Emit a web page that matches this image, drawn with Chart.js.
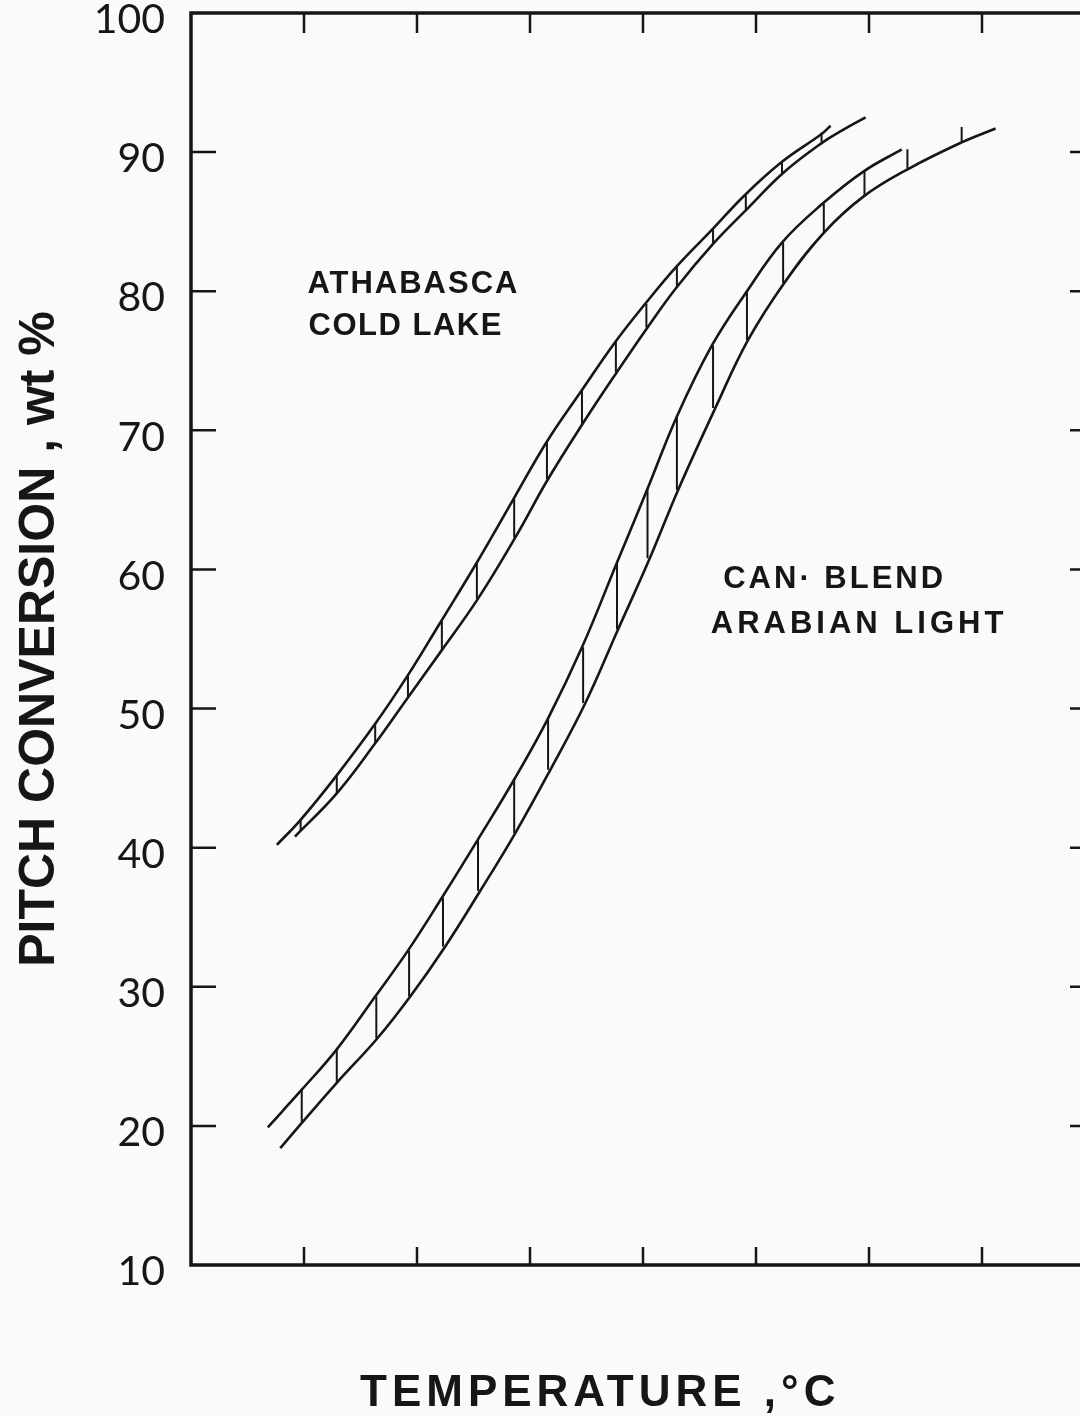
<!DOCTYPE html>
<html>
<head>
<meta charset="utf-8">
<title>Pitch conversion vs temperature</title>
<script src="https://cdn.jsdelivr.net/npm/chart.js@4"></script>
<style>
  html, body { margin: 0; padding: 0; background: #fafafa; overflow: hidden; }
  #chart { display: block; }
</style>
</head>
<body>
<canvas id="chart" width="1100" height="1416"></canvas>
<script>
// temperature is in tick steps (the axis carries no numbers), conversion in wt %
const athUpperTemp = [0.76, 0.97, 1.29, 1.63, 1.92, 2.20, 2.53, 2.85, 3.15, 3.46, 3.75, 4.02, 4.30, 4.62, 4.90, 5.23, 5.58, 5.66];
const athUpperConv = [40.2, 42.0, 45.2, 48.9, 52.4, 56.1, 60.5, 65.0, 69.2, 72.9, 76.3, 79.1, 81.8, 84.5, 86.9, 89.3, 91.3, 91.9];
const athLowerTemp = [0.92, 1.29, 1.63, 1.92, 2.22, 2.54, 2.87, 3.16, 3.46, 3.77, 4.04, 4.30, 4.62, 4.92, 5.24, 5.59, 5.77, 5.97];
const athLowerConv = [40.8, 43.9, 47.5, 50.8, 54.2, 57.9, 62.3, 66.5, 70.4, 74.2, 77.4, 80.3, 83.4, 85.9, 88.5, 90.7, 91.6, 92.5];
const athHatchTemp = [0.97, 1.29, 1.63, 1.92, 2.22, 2.53, 2.86, 3.15, 3.46, 3.76, 4.03, 4.30, 4.62, 4.91, 5.23, 5.58];
const athHatchTop = [42.0, 45.2, 48.9, 52.4, 56.3, 60.5, 65.1, 69.2, 72.9, 76.4, 79.1, 81.8, 84.5, 86.9, 89.3, 91.4];
const athHatchBottom = [41.2, 43.9, 47.5, 50.8, 54.2, 57.9, 62.3, 66.5, 70.4, 74.2, 77.4, 80.3, 83.4, 85.9, 88.5, 90.7];

const canUpperTemp = [0.68, 0.98, 1.29, 1.63, 1.92, 2.22, 2.54, 2.86, 3.16, 3.46, 3.77, 4.04, 4.30, 4.61, 4.92, 5.23, 5.59, 5.95, 6.29];
const canUpperConv = [19.9, 22.6, 25.5, 29.3, 32.6, 36.4, 40.6, 44.9, 49.3, 54.4, 60.5, 65.8, 71.0, 76.1, 80.0, 83.5, 86.3, 88.6, 90.2];
const canLowerTemp = [0.79, 0.99, 1.29, 1.65, 1.94, 2.25, 2.56, 2.87, 3.18, 3.49, 3.78, 4.06, 4.31, 4.64, 4.93, 5.25, 5.60, 5.95, 6.35, 6.82, 7.12];
const canLowerConv = [18.4, 20.3, 23.1, 26.3, 29.3, 32.9, 36.9, 41.05, 45.6, 50.4, 55.7, 60.8, 65.7, 71.6, 76.5, 80.6, 84.2, 86.8, 88.8, 90.7, 91.7];
const canHatchTemp = [0.98, 1.29, 1.64, 1.93, 2.23, 2.54, 2.86, 3.16, 3.47, 3.77, 4.04, 4.30, 4.62, 4.92, 5.24, 5.60, 5.96, 6.34, 6.82];
const canHatchTop = [22.6, 25.5, 29.3, 32.6, 36.4, 40.6, 44.9, 49.3, 54.4, 60.5, 65.8, 71.0, 76.1, 80.0, 83.5, 86.3, 88.6, 90.2, 91.8];
const canHatchBottom = [20.3, 23.1, 26.3, 29.3, 32.9, 36.9, 41.05, 45.6, 50.4, 55.7, 60.8, 65.7, 71.6, 76.5, 80.6, 84.2, 86.8, 88.8, 90.7];

const tempTicks = [0, 1, 2, 3, 4, 5, 6, 7, 8];
const convTicks = [10, 20, 30, 40, 50, 60, 70, 80, 90, 100];

const bandLabels = [
  { text: 'ATHABASCA', temp: 1.03, conv: 79.9, spacing: 2 },
  { text: 'COLD LAKE', temp: 1.04, conv: 76.85, spacing: 1.5 },
  { text: 'CAN· BLEND', temp: 4.71, conv: 58.7, spacing: 3 },
  { text: 'ARABIAN LIGHT', temp: 4.60, conv: 55.4, spacing: 4 },
];

const ink = '#161616';

const toPoints = (xs, ys) => xs.map((x, i) => ({ x: x, y: ys[i] }));

// each hatch is a short vertical segment, separated from the next by a gap
const toHatch = (xs, lows, highs) =>
  xs.flatMap((x, i) => [{ x: x, y: lows[i] }, { x: x, y: highs[i] }, { x: x, y: null }]);

const curve = (label, data) => ({
  label: label,
  data: data,
  borderColor: ink,
  borderWidth: 2.6,
  pointRadius: 0,
  tension: 0.4,
  fill: false,
});

const hatch = (label, data) => ({
  label: label,
  data: data,
  borderColor: ink,
  borderWidth: 2,
  pointRadius: 0,
  tension: 0,
  spanGaps: false,
  fill: false,
});

// keep the plot box exactly where the scales put it
const noPadding = (scale) => {
  scale.paddingTop = 0;
  scale.paddingBottom = 0;
  scale.paddingLeft = 0;
  scale.paddingRight = 0;
};

// box round the plot with inward tick marks on all four sides
const framePlugin = {
  id: 'frame',
  afterDatasetsDraw(chart) {
    const { ctx, chartArea: a, scales } = chart;
    const x = scales.x;
    const y = scales.y;
    ctx.save();
    ctx.strokeStyle = ink;
    ctx.lineWidth = 3.5;
    ctx.strokeRect(a.left, a.top, a.right - a.left, a.bottom - a.top);
    ctx.lineWidth = 2.5;
    ctx.beginPath();
    y.ticks.forEach((t) => {
      if (t.value <= y.min || t.value >= y.max) return;
      const py = y.getPixelForValue(t.value);
      ctx.moveTo(a.left, py);
      ctx.lineTo(a.left + 25, py);
      ctx.moveTo(a.right, py);
      ctx.lineTo(a.right - 25, py);
    });
    x.ticks.forEach((t) => {
      if (t.value <= x.min || t.value >= x.max) return;
      const px = x.getPixelForValue(t.value);
      ctx.moveTo(px, a.bottom);
      ctx.lineTo(px, a.bottom - 18);
      ctx.moveTo(px, a.top);
      ctx.lineTo(px, a.top + 20);
    });
    ctx.stroke();
    ctx.restore();
  },
};

const labelPlugin = {
  id: 'bandLabels',
  afterDatasetsDraw(chart) {
    const { ctx, scales } = chart;
    ctx.save();
    ctx.fillStyle = ink;
    ctx.textAlign = 'left';
    ctx.textBaseline = 'alphabetic';
    ctx.font = 'bold 31px "Liberation Sans", Arial, sans-serif';
    bandLabels.forEach((l) => {
      ctx.letterSpacing = l.spacing + 'px';
      ctx.fillText(l.text, scales.x.getPixelForValue(l.temp), scales.y.getPixelForValue(l.conv));
    });
    // x-axis title sits left of the plot centre in the original
    ctx.font = 'bold 44px "Liberation Sans", Arial, sans-serif';
    ctx.letterSpacing = '5px';
    ctx.fillText('TEMPERATURE ,°C', 360, 1406);
    ctx.restore();
  },
};

document.addEventListener('DOMContentLoaded', () => {
  const ctx = document.getElementById('chart').getContext('2d');
  new Chart(ctx, {
    type: 'line',
    data: {
      datasets: [
        curve('Athabasca / Cold Lake upper', toPoints(athUpperTemp, athUpperConv)),
        curve('Athabasca / Cold Lake lower', toPoints(athLowerTemp, athLowerConv)),
        hatch('Athabasca / Cold Lake band', toHatch(athHatchTemp, athHatchBottom, athHatchTop)),
        curve('Can. Blend / Arabian Light upper', toPoints(canUpperTemp, canUpperConv)),
        curve('Can. Blend / Arabian Light lower', toPoints(canLowerTemp, canLowerConv)),
        hatch('Can. Blend / Arabian Light band', toHatch(canHatchTemp, canHatchBottom, canHatchTop)),
      ],
    },
    options: {
      responsive: false,
      animation: false,
      devicePixelRatio: 1,
      layout: { padding: { top: 13, right: 5, bottom: 0, left: 0 } },
      plugins: {
        legend: { display: false },
        tooltip: { enabled: false },
      },
      scales: {
        x: {
          type: 'linear',
          min: tempTicks[0],
          max: tempTicks[tempTicks.length - 1],
          afterBuildTicks: (scale) => {
            scale.ticks = tempTicks.map((v) => ({ value: v }));
          },
          ticks: { display: false },
          grid: { display: false, drawTicks: false },
          border: { display: false },
          title: { display: false },
          afterFit: (scale) => {
            scale.height = 151;
            noPadding(scale);
          },
        },
        y: {
          type: 'linear',
          min: convTicks[0],
          max: convTicks[convTicks.length - 1],
          afterBuildTicks: (scale) => {
            scale.ticks = convTicks.map((v) => ({ value: v }));
          },
          ticks: {
            color: ink,
            padding: 26,
            labelOffset: 7,
            font: { family: 'Lato, "Open Sans", sans-serif', size: 41, weight: 'normal' },
          },
          grid: { display: false, drawTicks: false },
          border: { display: false },
          title: {
            display: true,
            text: 'PITCH CONVERSION , wt %',
            color: ink,
            font: { family: '"Liberation Sans", Arial, sans-serif', size: 50, weight: 'bold', lineHeight: 1.2 },
            padding: { top: 10, bottom: 0 },
          },
          afterFit: (scale) => {
            scale.width = 191;
            noPadding(scale);
          },
        },
      },
    },
    plugins: [framePlugin, labelPlugin],
  });
});
</script>
</body>
</html>
